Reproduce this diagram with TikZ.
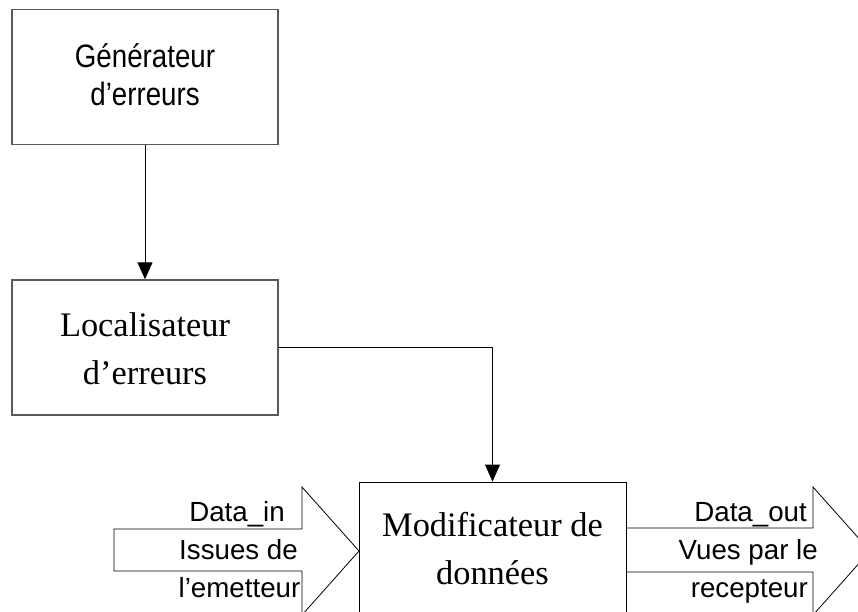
\documentclass[tikz,border=0pt]{standalone}
\usepackage{fontspec}
\setmainfont{Liberation Serif}
\setsansfont{Liberation Sans}
\usetikzlibrary{arrows.meta}

% texte des blocs (sans: un peu etire en hauteur)
\newcommand{\lignessans}[2][0pt]{\raisebox{#1}[\height][\depth]{\scalebox{1}[1.17]{\fontsize{27.7}{32.5}\selectfont\sffamily\begin{tabular}{@{}c@{}}#2\end{tabular}}}}
\newcommand{\lignesserif}[2][0pt]{\raisebox{#1}[\height][\depth]{\fontsize{34.4}{48}\selectfont\rmfamily\begin{tabular}{@{}c@{}}#2\end{tabular}}}

\tikzset{
  bloc/.style={draw=black!65, line width=1.4pt, fill=white, inner sep=0pt, minimum width=266pt, minimum height=135pt},
  fleche/.style={draw=black, line width=0.9pt, -{Triangle[width=15pt,length=17pt]}},
  bus/.style={draw=black, line width=0.8pt, fill=white},
  etiq/.style={font=\sffamily\fontsize{27.7}{30}\selectfont, anchor=base east, inner sep=0pt}
}

\begin{document}
\begin{tikzpicture}[x=1pt, y=-1pt]
    \useasboundingbox (0, 0) rectangle (858, 611);
    % blocs
    \node[bloc](gen) at (145, 77){\lignessans[-2pt]{G\'en\'erateur\\d'erreurs}};
    \node[bloc](loc) at (145, 347.5){\lignesserif[-3.5pt]{Localisateur\\d'erreurs}};
    % bus d'entree et de sortie
    \draw[bus](114, 529)--(302, 529)--(302, 487)--(359, 551)--(302, 615)--(302, 571)--(114, 571)--cycle;
    \draw[bus](620, 528)--(813, 528)--(813, 487)--(870, 551)--(813, 615)--(813, 572)--(620, 572)--cycle;
    \node[bloc, draw=black, line width=0.9pt, minimum width=267pt](modif) at (492.5, 549.5){\lignesserif[-1.7pt]{Modificateur de\\donn\'ees}};
    % liaisons
    \draw[fleche](gen.south)--(loc.north);
    \draw[fleche](loc.east)-|(modif.north);
    % textes des bus
    \node[etiq](din) at (285, 521){Data\_in};
    \node[etiq](iss) at (298, 559){Issues de};
    \node[etiq](emet) at (300.5, 597){l'emetteur};
    \node[etiq](dout) at (807, 521){Data\_out};
    \node[etiq](vues) at (818, 559){Vues par le};
    \node[etiq](recep) at (808, 597){recepteur};
\end{tikzpicture}
\end{document}
